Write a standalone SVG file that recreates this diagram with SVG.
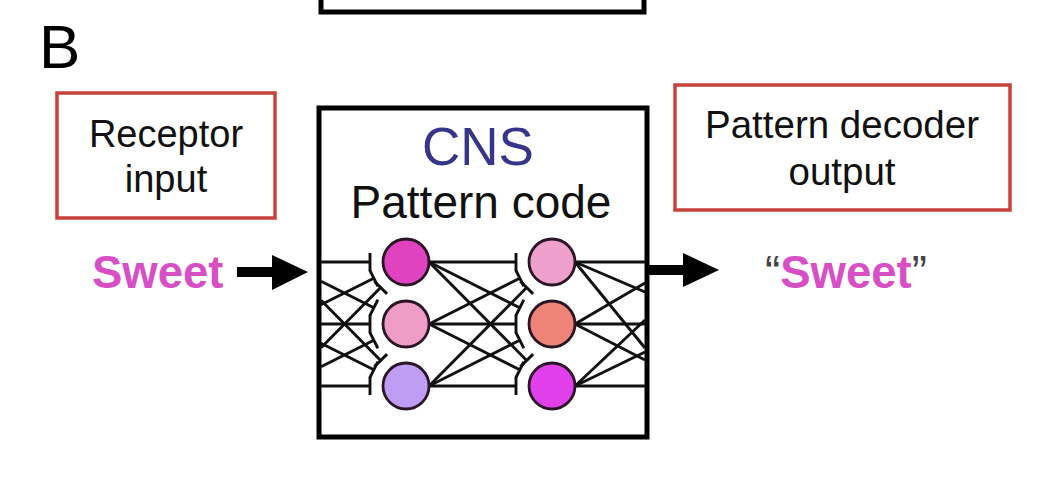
<svg xmlns="http://www.w3.org/2000/svg" width="1058" height="486" viewBox="0 0 1058 486">
<defs>
<style>
.bg{fill:#ffffff}
.frame{fill:none;stroke:#000;stroke-width:5}
.red{fill:#fff;stroke:#c8413a;stroke-width:3.5}
.lbl{font-family:"Liberation Sans",Arial,sans-serif;fill:#111;text-anchor:middle}
.sweet{font-family:"Liberation Sans",Arial,sans-serif;font-weight:bold;fill:#d74fc5}
.net line{stroke:#111;stroke-width:2.9;stroke-linecap:butt}
.node{stroke:#2a1526;stroke-width:2.8}
.arrow{fill:#000}
</style>
</defs>
<rect class="bg" x="0" y="0" width="1058" height="486"/>
<g id="top-box"><rect class="frame" x="321" y="-12" width="323" height="24"/></g>
<text id="panel-label" x="39" y="68" font-family="Liberation Sans, Arial, sans-serif" font-size="62" fill="#000">B</text>

<g id="receptor-input">
<rect class="red" x="57" y="93" width="218" height="125"/>
<text class="lbl" x="166" y="147" font-size="38">Receptor</text>
<text class="lbl" x="166" y="192" font-size="38">input</text>
</g>

<g id="decoder-output">
<rect class="red" x="675" y="85" width="335" height="125"/>
<text class="lbl" x="842" y="138" font-size="38.5">Pattern decoder</text>
<text class="lbl" x="842" y="185" font-size="38.5">output</text>
</g>

<g id="sweet-input"><text class="sweet" x="92" y="288" font-size="45.5">Sweet</text></g>
<g id="sweet-output"><text x="765" y="288" font-size="45.5" font-family="Liberation Sans, Arial, sans-serif" fill="#444">“<tspan class="sweet">Sweet</tspan>”</text></g>

<g id="cns">
<rect class="frame" x="319" y="108" width="328" height="329" fill="#fff"/>
<text class="lbl" x="478" y="165" font-size="53" style="fill:#35358a">CNS</text>
<text class="lbl" x="481" y="218" font-size="46">Pattern code</text>
</g>

<g id="connectors" class="net">
<line x1="321" y1="262" x2="370" y2="262"/><line x1="370" y1="253" x2="370" y2="271"/>
<line x1="321" y1="324" x2="370" y2="324"/><line x1="370" y1="315" x2="370" y2="333"/>
<line x1="321" y1="386" x2="370" y2="386"/><line x1="370" y1="377" x2="370" y2="395"/>
<line x1="321" y1="281.2" x2="373.8" y2="307.8"/><line x1="369.75" y1="315.84" x2="377.85" y2="299.76"/>
<line x1="321" y1="300.3" x2="380.7" y2="360.4"/><line x1="374.3" y1="366.7" x2="387.1" y2="354.1"/>
<line x1="321" y1="304.8" x2="373.8" y2="278.2"/><line x1="369.75" y1="270.16" x2="377.85" y2="286.24"/>
<line x1="321" y1="343.2" x2="373.8" y2="369.8"/><line x1="369.75" y1="377.84" x2="377.85" y2="361.76"/>
<line x1="321" y1="347.7" x2="380.7" y2="287.6"/><line x1="374.3" y1="281.3" x2="387.1" y2="293.9"/>
<line x1="321" y1="366.8" x2="373.8" y2="340.2"/><line x1="369.75" y1="332.16" x2="377.85" y2="348.24"/>
<line x1="429" y1="262" x2="516" y2="262"/><line x1="516" y1="253" x2="516" y2="271"/>
<line x1="429" y1="324" x2="516" y2="324"/><line x1="516" y1="315" x2="516" y2="333"/>
<line x1="429" y1="386" x2="516" y2="386"/><line x1="516" y1="377" x2="516" y2="395"/>
<line x1="429" y1="262" x2="519.8" y2="307.8"/><line x1="515.75" y1="315.84" x2="523.85" y2="299.76"/>
<line x1="429" y1="262" x2="526.7" y2="360.4"/><line x1="520.3" y1="366.7" x2="533.1" y2="354.1"/>
<line x1="429" y1="324" x2="519.8" y2="278.2"/><line x1="515.75" y1="270.16" x2="523.85" y2="286.24"/>
<line x1="429" y1="324" x2="519.8" y2="369.8"/><line x1="515.75" y1="377.84" x2="523.85" y2="361.76"/>
<line x1="429" y1="386" x2="526.7" y2="287.6"/><line x1="520.3" y1="281.3" x2="533.1" y2="293.9"/>
<line x1="429" y1="386" x2="519.8" y2="340.2"/><line x1="515.75" y1="332.16" x2="523.85" y2="348.24"/>
<line x1="575" y1="262" x2="645" y2="262"/>
<line x1="575" y1="262" x2="645" y2="292"/>
<line x1="575" y1="262" x2="645" y2="348"/>
<line x1="575" y1="324" x2="645" y2="283"/>
<line x1="575" y1="324" x2="645" y2="324"/>
<line x1="575" y1="324" x2="645" y2="360"/>
<line x1="575" y1="386" x2="645" y2="320"/>
<line x1="575" y1="386" x2="645" y2="352"/>
<line x1="575" y1="386" x2="645" y2="386"/>
</g>

<g id="arrows">
<g id="arrow-in"><rect class="arrow" x="237" y="267" width="37" height="10"/><polygon class="arrow" points="272,255 308,272 272,290"/></g>
<g id="arrow-out"><rect class="arrow" x="647" y="265" width="38" height="10"/><polygon class="arrow" points="683,253 719,270 683,287"/></g>
</g>

<g id="n1a"><circle class="node" cx="406" cy="262" r="23" fill="#e143c0"/></g>
<g id="n1b"><circle class="node" cx="406" cy="324" r="23" fill="#ef9cc6"/></g>
<g id="n1c"><circle class="node" cx="406" cy="386" r="23" fill="#bf9df4"/></g>
<g id="n2a"><circle class="node" cx="552" cy="262" r="23" fill="#ef9fcb"/></g>
<g id="n2b"><circle class="node" cx="552" cy="324" r="23" fill="#ee8378"/></g>
<g id="n2c"><circle class="node" cx="552" cy="386" r="23" fill="#e23fec"/></g>
</svg>
